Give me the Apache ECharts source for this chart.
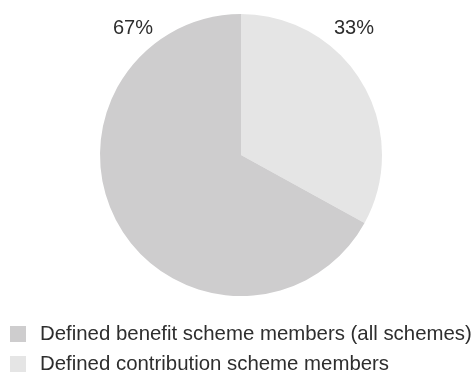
<!DOCTYPE html>
<html>
<head>
<meta charset="utf-8">
<script src="https://cdn.jsdelivr.net/npm/echarts@6/dist/echarts.min.js"></script>
<style>
html,body{margin:0;padding:0;background:#fff;}
#c{width:475px;height:372px;}
</style>
</head>
<body>
<div id="c"></div>
<script>
// Data
const categories = ['Defined contribution scheme members', 'Defined benefit scheme members (all schemes)'];
const values = [33, 67];
const legendOrder = ['Defined benefit scheme members (all schemes)', 'Defined contribution scheme members'];

// Style
const colors = ['#e5e5e5', '#cecdce'];
const labelPos = [{x: 354, y: 28}, {x: 133, y: 28}];

const chart = echarts.init(document.getElementById('c'), null, {renderer: 'canvas'});
chart.setOption({
  animation: false,
  textStyle: {fontFamily: 'Liberation Sans'},
  legend: {
    data: legendOrder,
    orient: 'vertical',
    left: 10,
    bottom: -2,
    padding: 0,
    itemWidth: 16,
    itemHeight: 16,
    itemGap: 10,
    icon: 'rect',
    textStyle: {fontSize: 20.4, color: '#2e2e2e', fontFamily: 'Liberation Sans', padding: [0, 0, 0, 9]}
  },
  series: [{
    type: 'pie',
    center: [241, 155],
    radius: [0, 141],
    startAngle: 90,
    clockwise: true,
    silent: true,
    itemStyle: {borderWidth: 0},
    label: {
      show: true,
      position: 'outside',
      formatter: '{c}%',
      fontSize: 20,
      color: '#2e2e2e',
      fontFamily: 'Liberation Sans'
    },
    labelLine: {show: false},
    labelLayout: function (p) {
      const pos = labelPos[p.dataIndex];
      return {x: pos.x, y: pos.y, align: 'center', verticalAlign: 'middle'};
    },
    data: categories.map((n, i) => ({name: n, value: values[i], itemStyle: {color: colors[i]}}))
  }]
});
</script>
</body>
</html>
